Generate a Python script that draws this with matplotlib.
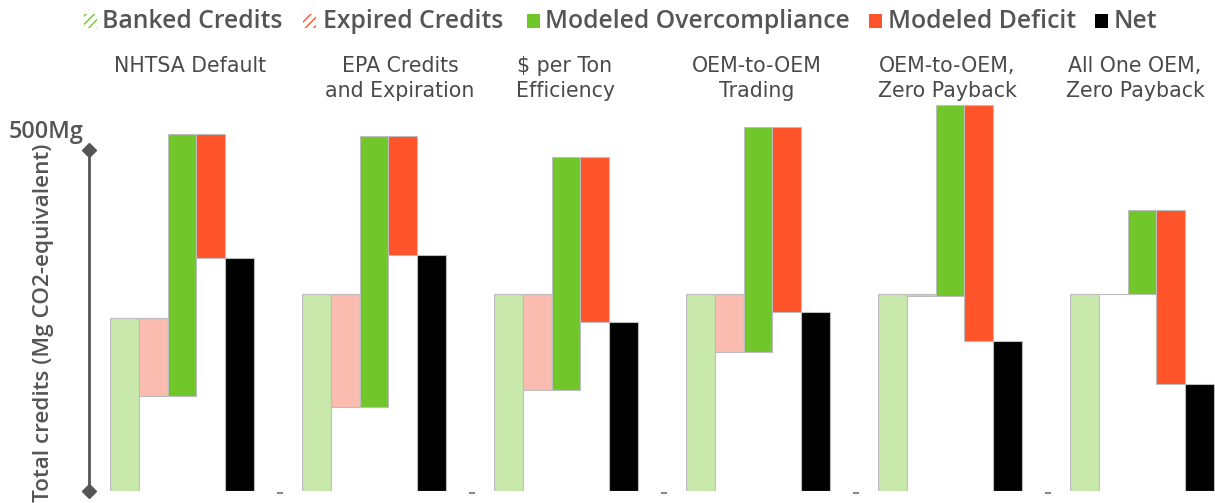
import numpy as np
import matplotlib.pyplot as plt
from matplotlib.patches import Rectangle

# values (Mg CO2-equivalent)
scenarios = ["NHTSA Default", "EPA Credits\nand Expiration", "$ per Ton\nEfficiency",
             "OEM-to-OEM\nTrading", "OEM-to-OEM,\nZero Payback", "All One OEM,\nZero Payback"]
banked = [253, 288, 288, 288, 288, 288]
expired = [114, 166, 140, 85, 2, 0]
overcompliance = [385, 399, 341, 331, 280, 124]
deficit = [183, 175, 242, 272, 346, 256]
net = [341, 346, 247, 262, 220, 156]

legend_labels = ["Banked Credits", "Expired Credits", "Modeled Overcompliance",
                 "Modeled Deficit", "Net"]

c_banked = "#c9e8ab"
c_expired = "#f9bcae"
c_over = "#71c72a"
c_deficit = "#ff5429"
c_net = "#000000"
edge = "#bdbdbd"
txt = "#555555"

W, H = 1215, 503
fig = plt.figure(figsize=(W / 100, H / 100), dpi=100)

def fx(px):
    return px / W

def fy(py):
    return 1 - py / H

# axes: 0 at y=490.5px, 500 at y=150px ; bar width = 28.8 px
ymax = 600
ppu = (490.5 - 150) / 500
ax = fig.add_axes([fx(89), fy(490.5), fx(W - 89), ymax * ppu / H])
bw = 28.8
x0 = -21 / bw
ax.set_xlim(x0, x0 + (W - 89) / bw)
ax.set_ylim(0, ymax)
ax.axis("off")

step = 192 / bw
for g in range(len(scenarios)):
    b = g * step
    lo = banked[g] - expired[g]
    ax.bar(b, banked[g], width=1, align="edge", color=c_banked, edgecolor=edge, lw=0.8)
    ax.bar(b + 1, expired[g], bottom=lo, width=1, align="edge",
           color=c_expired, edgecolor=edge, lw=0.8)
    ax.bar(b + 2, overcompliance[g], bottom=lo, width=1, align="edge",
           color=c_over, edgecolor=edge, lw=0.8)
    top = lo + overcompliance[g]
    ax.bar(b + 3, deficit[g], bottom=top - deficit[g], width=1, align="edge",
           color=c_deficit, edgecolor=edge, lw=0.8)
    ax.bar(b + 4, net[g], width=1, align="edge", color=c_net, edgecolor=edge, lw=0.8)
    if g < len(scenarios) - 1:
        ax.plot(b + 5.9, -4, marker="_", color="#888888", ms=5, mew=1.5, clip_on=False)

# y axis line with diamonds
ax.plot([x0, x0], [0, 500], color=txt, lw=2, marker="D", ms=7, clip_on=False)
fig.text(fx(46), fy(137.7), "500Mg", color=txt, fontsize=16.8, fontweight="semibold",
         family="Open Sans", ha="center", va="baseline")
fig.text(fx(44), fy(323), "Total credits (Mg CO2-equivalent)", color=txt, fontsize=16.2,
         fontweight="semibold", family="Open Sans", rotation=90, ha="center", va="center")

# scenario titles, one text per line
title_dx = [8, 26, -1, -1, -3, -7]
for g, s in enumerate(scenarios):
    cx = 110 + g * 192 + 72 + title_dx[g]
    for k, line in enumerate(s.split("\n")):
        fig.text(fx(cx), fy(72.3 + 25 * k), line, color="#4a4a4a", fontsize=14.8,
                 family="DejaVu Sans", ha="center", va="baseline")

# legend
icon_x = [84, 303, 527, 869, 1095]
text_x = [102, 323, 545, 888, 1114]
icon_c = [c_over, c_deficit, c_over, c_deficit, c_net]
for i, lab in enumerate(legend_labels):
    if i < 2:
        fig.add_artist(Rectangle((fx(icon_x[i]), fy(28)), fx(13), 14 / H, facecolor="white",
                                 edgecolor=icon_c[i], hatch="////", lw=0,
                                 transform=fig.transFigure))
    else:
        fig.add_artist(Rectangle((fx(icon_x[i]), fy(28)), fx(13), 14 / H,
                                 facecolor=icon_c[i], lw=0, transform=fig.transFigure))
    fig.text(fx(text_x[i]), fy(28), lab, color=txt, fontsize=17.8, fontweight="semibold",
             family="Open Sans", ha="left", va="baseline")

fig.savefig("out.png", dpi=100)
